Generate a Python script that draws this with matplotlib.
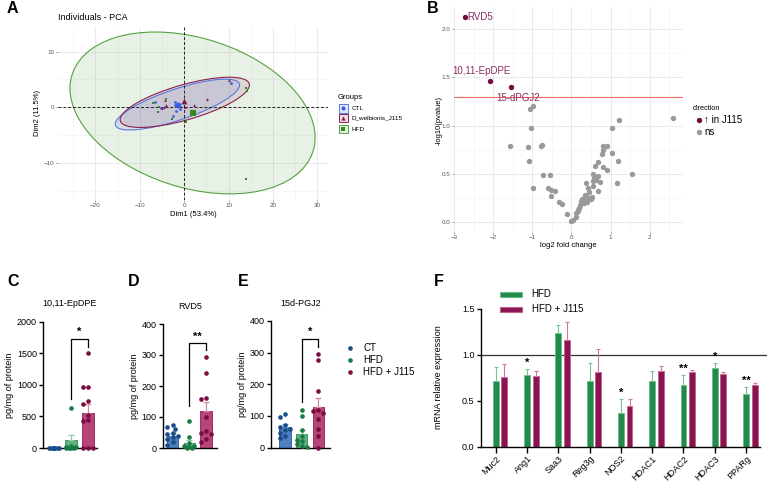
import numpy as np
import matplotlib
matplotlib.use("Agg")
import matplotlib.pyplot as plt
from matplotlib.patches import Ellipse, Rectangle

plt.rcParams["font.family"] = ["Liberation Sans", "DejaVu Sans"]

W, H = 767, 490

# ---------------- data ----------------
# A: PCA individuals (Dim1, Dim2)
ctl_x = [-6.5, -5.2, -2.6, -1.9, -0.9, -2.0, 10.5, -2.1]
ctl_y = [0.9, -0.2, -1.6, -0.6, -0.3, 0.9, 4.4, 0.5]
jw_x = [-4.4, -4.1, -5.0, 5.1, 2.3, 0.3, 10.0, -4.6]
jw_y = [1.3, 0.4, -0.1, 1.5, 0.45, 0.0, 4.9, 0.1]
hfd_x = [-7.0, -4.0, -5.7, -5.8, -2.8, 0.5, 13.9, 14.1, 13.9]
hfd_y = [0.75, 1.5, 0.0, -0.75, -2.1, -2.7, 3.4, 2.9, -12.8]
# concentration ellipses: centre, semi axes, angle (deg)
ell_cx = [-1.5, 0.15, 1.9]
ell_cy = [0.5, 0.9, -1.0]
ell_a = [14.45, 14.9, 28.06]
ell_b = [2.82, 3.19, 13.59]
ell_ang = [14.6, 12.6, -11.9]
groups = ["CTL", "D_welbionis_J115", "HFD"]

# B: volcano
sig_names = ["RVD5", "10,11-EpDPE", "15-dPGJ2"]
sig_lfc = [-2.72, -2.09, -1.55]
sig_p = [2.125, 1.46, 1.40]
ns_lfc = [-0.985, -1.07, -1.04, -1.58, -1.10, -0.77, -0.74, -1.08, -0.73, -0.55,
          -0.97, -0.61, -0.51, -0.41, -0.52, -0.31, -0.25, -0.12, -0.02, 0.05,
          0.12, 0.13, 0.16, 0.20, 0.22, 0.24, 0.30, 0.32, 0.37, 0.39,
          0.46, 0.43, 0.37, 0.41, 0.49, 0.52, 0.56, 0.58, 0.54, 0.60,
          0.64, 0.68, 0.69, 0.73, 0.77, 0.80, 0.82, 0.84, 0.90, 0.82,
          0.90, 0.69, 1.05, 1.21, 1.05, 1.18, 1.16, 1.56, 2.59, 0.27,
          0.18, 0.34, 0.55]
ns_p = [1.202, 1.168, 0.970, 0.79, 0.78, 0.79, 0.80, 0.634, 0.49, 0.49,
        0.353, 0.347, 0.33, 0.32, 0.27, 0.21, 0.18, 0.08, 0.01, 0.017,
        0.05, 0.087, 0.114, 0.139, 0.177, 0.215, 0.236, 0.19, 0.232, 0.26,
        0.31, 0.353, 0.405, 0.20, 0.232, 0.26, 0.371, 0.46, 0.50, 0.58,
        0.433, 0.475, 0.624, 0.416, 0.70, 0.787, 0.745, 0.78, 0.787, 0.565,
        0.537, 0.32, 0.97, 1.057, 0.717, 0.63, 0.40, 0.50, 1.074, 0.24,
        0.12, 0.28, 0.42]

# C-E: lipid mediators, pg/mg of protein
conds = ["CT", "HFD", "HFD + J115"]
c_ct = [0, 0, 0, 0, 0, 0, 0, 0, 0, 0]
c_hfd = [640, 30, 15, 8, 0, 0, 0, 0]
c_j115 = [1500, 970, 965, 740, 700, 520, 450, 430, 0, 0, 0]
c_mean = [4, 120, 553]
c_sem = [2, 90, 140]
d_ct = [75, 68, 62, 50, 45, 40, 35, 30, 20, 10]
d_hfd = [88, 35, 15, 8, 5, 2, 0, 0]
d_j115 = [292, 241, 160, 157, 100, 55, 50, 45, 30, 20]
d_mean = [40, 17, 118]
d_sem = [7, 10, 29]
e_ct = [105, 95, 70, 65, 60, 55, 45, 35, 30]
e_hfd = [120, 100, 55, 35, 25, 20, 10, 5, 3]
e_j115 = [295, 278, 180, 120, 115, 110, 90, 60, 35, 0]
e_mean = [66, 42, 128]
e_sem = [8, 13, 30]

# F: qPCR
genes = ["Muc2", "Ang1", "Saa3", "Reg3g", "NOS2", "HDAC1", "HDAC2", "HDAC3", "PPARg"]
f_hfd = [0.714, 0.78, 1.23, 0.71, 0.368, 0.707, 0.67, 0.85, 0.566]
f_hfd_sem = [0.151, 0.063, 0.096, 0.195, 0.152, 0.112, 0.105, 0.055, 0.086]
f_j115 = [0.757, 0.768, 1.157, 0.81, 0.439, 0.822, 0.81, 0.79, 0.664]
f_j115_sem = [0.136, 0.05, 0.191, 0.246, 0.081, 0.057, 0.022, 0.025, 0.025]
f_stars = ["", "*", "", "", "*", "", "**", "*", "**"]

# ---------------- helpers ----------------
def px_axes(fig, left, top, right, bottom, **kw):
    return fig.add_axes([left / W, 1 - bottom / H, (right - left) / W, (bottom - top) / H], **kw)


def gg_style(ax):
    for s in ax.spines.values():
        s.set_visible(False)
    ax.grid(True, which="major", color="#e6e6e6", lw=0.6)
    ax.grid(True, which="minor", color="#f2f2f2", lw=0.4)
    ax.tick_params(which="major", length=1.5, width=0.4, color="#555555",
                   labelsize=4.5, labelcolor="#555555", pad=1)
    ax.tick_params(which="minor", length=0)
    ax.set_axisbelow(True)


def prism_style(ax):
    ax.spines["top"].set_visible(False)
    ax.spines["right"].set_visible(False)
    for s in ("left", "bottom"):
        ax.spines[s].set_linewidth(1.0)
    ax.tick_params(length=3, width=1.0, labelsize=6.5, pad=1.5)


def swarm(ax, xc, vals, diam, half):
    p = ax.transData.transform([[0, 0], [1, 1]])
    sx, sy = p[1, 0] - p[0, 0], p[1, 1] - p[0, 1]
    step = diam * 0.55
    placed = []
    offs = np.zeros(len(vals))
    for i in np.argsort(vals)[::-1]:
        y = vals[i] * sy
        best, bestd = 0.0, -1.0
        for k in [0, -1, 1, -2, 2, -3, 3, -4, 4]:
            ox = k * step
            if abs(ox) > half:
                continue
            d = min([np.hypot(ox - a, y - b) for a, b in placed], default=1e9)
            if d >= diam * 0.95:
                best = ox
                break
            if d > bestd:
                best, bestd = ox, d
        placed.append((best, y))
        offs[i] = best / sx
    return xc + offs


fig = plt.figure(figsize=(W / 100, H / 100), dpi=100)

# ---------------- A: PCA ----------------
axA = px_axes(fig, 58, 27, 328, 200)
gg_style(axA)
axA.set_xlim(-28.4, 32.4)
axA.set_ylim(-16.6, 14.4)
axA.set_xticks([-20, -10, 0, 10, 20, 30])
axA.set_xticks([-25, -15, -5, 5, 15, 25], minor=True)
axA.set_yticks([-10, 0, 10])
axA.set_yticks([-15, -5, 5], minor=True)
cols_A = ["#3d5fe8", "#7d1a4b", "#2f8a22"]
edge_A = ["#5a78e0", "#8b2050", "#55a040"]
fills_A = [("#4466ee", 0.12), ("#7d1a4b", 0.12), ("#4f9a3f", 0.13)]
order = [2, 0, 1]
for i in order:
    e = Ellipse((ell_cx[i], ell_cy[i]), 2 * ell_a[i], 2 * ell_b[i], angle=ell_ang[i],
                facecolor=fills_A[i][0], alpha=fills_A[i][1], edgecolor="none", zorder=1)
    axA.add_patch(e)
    e2 = Ellipse((ell_cx[i], ell_cy[i]), 2 * ell_a[i], 2 * ell_b[i], angle=ell_ang[i],
                 facecolor="none", edgecolor=edge_A[i], lw=0.8, zorder=2)
    axA.add_patch(e2)
axA.axhline(0, color="#222222", ls=(0, (3, 2)), lw=0.7, zorder=3)
axA.axvline(0, color="#222222", ls=(0, (3, 2)), lw=0.7, zorder=3)
pca = [(ctl_x, ctl_y, "o"), (jw_x, jw_y, "^"), (hfd_x, hfd_y, "s")]
for i, (xs, ys, mk) in enumerate(pca):
    axA.scatter(xs, ys, marker=mk, s=4, color=cols_A[i], lw=0, zorder=4)
    axA.scatter([np.mean(xs)], [np.mean(ys)], marker=mk, s=18, color=cols_A[i], lw=0, zorder=5)
axA.set_xlabel("Dim1 (53.4%)", fontsize=5.5, labelpad=2)
axA.set_ylabel("Dim2 (11.5%)", fontsize=5.5, labelpad=2)
axA.set_title("Individuals - PCA", fontsize=6.5, loc="left", pad=5)

# ---------------- B: volcano ----------------
axB = px_axes(fig, 454, 7.2, 683.3, 231.9)
gg_style(axB)
axB.set_xlim(-3.0, 2.86)
axB.set_ylim(-0.106, 2.23)
axB.set_xticks([-3, -2, -1, 0, 1, 2])
axB.set_xticks([-2.5, -1.5, -0.5, 0.5, 1.5, 2.5], minor=True)
axB.set_yticks([0.0, 0.5, 1.0, 1.5, 2.0])
axB.set_yticks([0.25, 0.75, 1.25, 1.75], minor=True)
axB.yaxis.set_major_formatter(matplotlib.ticker.FormatStrFormatter("%.1f"))
axB.scatter(ns_lfc, ns_p, s=15, color="#999999", lw=0, zorder=3)
axB.scatter(sig_lfc, sig_p, s=15, color="#700c42", lw=0, zorder=4)
axB.axhline(-np.log10(0.05), color="#ef6b64", lw=0.8, zorder=2)
lab_off = [(2, 0, "left", "center"), (-6, 4, "center", "bottom"), (5, -4, "center", "top")]
for n, x, y, (dx, dy, ha, va) in zip(sig_names, sig_lfc, sig_p, lab_off):
    axB.annotate(n, (x, y), xytext=(dx, dy), textcoords="offset points",
                 ha=ha, va=va, fontsize=7, color="#8b2f62")
axB.set_xlabel("log2 fold change", fontsize=5.5, labelpad=1.5)

# ---------------- C-E: bar + dots ----------------
bar_fill = ["#4f7fbf", "#5fb27f", "#b6457a"]
bar_edge = ["#2c5a96", "#2e8a52", "#8d1c52"]
dot_col = ["#1a4d8c", "#1a7a43", "#7a0c42"]
err_col = ["#7fa3d3", "#8ccaa2", "#d08aab"]
panels = [
    ("10,11-EpDPE", (43.3, 321.7, 96.7, 448), (54, 17.1), 2000, 500,
     [c_ct, c_hfd, c_j115], c_mean, c_sem, (780, 1725, 1604), "*"),
    ("RVD5", (162.7, 324, 217, 448), (172.5, 16.8), 400, 100,
     [d_ct, d_hfd, d_j115], d_mean, d_sem, (134, 338, 316), "**"),
    ("15d-PGJ2", (271, 321, 330, 447.5), (285, 16.7), 400, 100,
     [e_ct, e_hfd, e_j115], e_mean, e_sem, (145, 343, 318), "*"),
]
for title, (l, t, r, b), (x0, ppu), ymax, ystep, dots, means, sems, br, star in panels:
    ax = px_axes(fig, l, t, r, b)
    prism_style(ax)
    ax.set_xlim((l - x0) / ppu, (r - x0) / ppu)
    ax.set_ylim(0, ymax)
    ax.set_yticks(np.arange(0, ymax + 1, ystep))
    ax.set_xticks([])
    xs = np.arange(3)
    ax.bar(xs, means, width=0.68, color=bar_fill, edgecolor=bar_edge, lw=0.6, zorder=2)
    for i in range(3):
        ax.errorbar(xs[i], means[i], yerr=[[0], [sems[i]]], color=err_col[i], lw=0.9,
                    capsize=2, capthick=0.9, zorder=3)
        v = np.array(dots[i], dtype=float)
        ax.scatter(swarm(ax, xs[i], v, 4.6, 6.5), v, s=11, color=dot_col[i],
                   lw=0, zorder=4, clip_on=False)
    lo, top, ro = br
    ax.plot([1, 1, 2, 2], [lo, top, top, ro], color="black", lw=0.9, clip_on=False, zorder=5)
    ax.text(1.5, top + ymax * 0.015, star, ha="center", va="bottom", fontsize=8,
            fontweight="bold", clip_on=False)
    ax.set_ylabel("pg/mg of protein", fontsize=6.5, labelpad=2)
    ax.set_title(title, fontsize=6.5, pad=11)

# ---------------- F: qPCR ----------------
axF = px_axes(fig, 480.7, 308.5, 766, 446.5)
prism_style(axF)
ppuF = 31.28
axF.set_xlim((480.7 - 495.8) / ppuF, (766 - 495.8) / ppuF)
axF.set_ylim(0, 1.5)
axF.spines["bottom"].set_bounds((480.7 - 495.8) / ppuF, (760 - 495.8) / ppuF)
axF.set_yticks([0.0, 0.5, 1.0, 1.5])
axF.yaxis.set_major_formatter(matplotlib.ticker.FormatStrFormatter("%.1f"))
gx = np.arange(len(genes))
off = 8.6 / ppuF
axF.bar(gx, f_hfd, width=0.19, color="#248a4c", edgecolor="#66bb85", lw=0.6, zorder=2)
axF.bar(gx + off, f_j115, width=0.19, color="#8a1450", edgecolor="#c0608f", lw=0.6, zorder=2)
axF.errorbar(gx, f_hfd, yerr=[np.zeros(len(genes)), f_hfd_sem], fmt="none",
             ecolor="#78c491", lw=0.8, capsize=1.5, capthick=0.8, zorder=3)
axF.errorbar(gx + off, f_j115, yerr=[np.zeros(len(genes)), f_j115_sem], fmt="none",
             ecolor="#cc7aa3", lw=0.8, capsize=1.5, capthick=0.8, zorder=3)
axF.axhline(1.0, color="#333333", lw=0.9, zorder=1, clip_on=False)
for i, s in enumerate(f_stars):
    if s:
        axF.text(gx[i], f_hfd[i] + f_hfd_sem[i] + 0.01, s, ha="center", va="bottom",
                 fontsize=8, fontweight="bold")
axF.set_xticks(gx)
axF.set_xticklabels(genes, rotation=45, ha="right", rotation_mode="anchor", fontsize=6.5)
axF.tick_params(axis="x", length=4)
axF.set_ylabel("mRNA relative expression", fontsize=6.5, labelpad=14)

# ---------------- overlay: panel letters and legends ----------------
ov = fig.add_axes([0, 0, 1, 1], zorder=10)
ov.set_xlim(0, W)
ov.set_ylim(H, 0)
ov.axis("off")
for letter, (x, y) in zip("ABCDEF", [(7, 1), (427, 1), (7, 274), (128, 274), (238, 274), (434, 274)]):
    ov.text(x, y, letter, fontsize=11.5, fontweight="bold", va="top", ha="left")

# A legend
ov.text(338, 97, "Groups", fontsize=5.5, va="center", ha="left")
mk_A = ["o", "^", "s"]
for i, y in enumerate([108.3, 118, 129]):
    ov.add_patch(Rectangle((338.5, y - 4.3), 9.5, 8.6, facecolor=fills_A[i][0],
                           alpha=0.15, edgecolor="none"))
    ov.add_patch(Rectangle((338.5, y - 4.3), 9.5, 8.6, facecolor="none",
                           edgecolor=edge_A[i], lw=0.7))
    ov.scatter([343.2], [y], marker=mk_A[i], s=9, color=cols_A[i], lw=0)
    ov.text(352, y, groups[i], fontsize=4.6, va="center", ha="left")

# B legend and y label
ov.text(439, 120, "-log10(pvalue)", fontsize=5.5, rotation=90, ha="center", va="center")
ov.text(693, 108, "direction", fontsize=5.2, va="center", ha="left")
ov.scatter([698.5], [120], s=15, color="#700c42", lw=0)
ov.text(704, 120, "\u2191 in J115", fontsize=7, va="center", ha="left")
ov.scatter([698.5], [132], s=15, color="#999999", lw=0)
ov.text(704, 132, "ns", fontsize=7, va="center", ha="left")

# E legend (conditions)
for i, y in enumerate([347.5, 360, 372]):
    ov.scatter([350], [y], s=11, color=dot_col[i], lw=0)
    ov.text(363, y, conds[i], fontsize=7, va="center", ha="left")

# F legend
for i, (lab, fc, ec) in enumerate([("HFD", "#248a4c", "#66bb85"), ("HFD + J115", "#8a1450", "#c0608f")]):
    y = [294, 309.3][i]
    ov.add_patch(Rectangle((500, y - 2.5), 21.5, 5, facecolor=fc, edgecolor=ec, lw=0.8))
    ov.text(531.5, y, lab, fontsize=7, va="center", ha="left")

fig.savefig("out.png", dpi=100)
